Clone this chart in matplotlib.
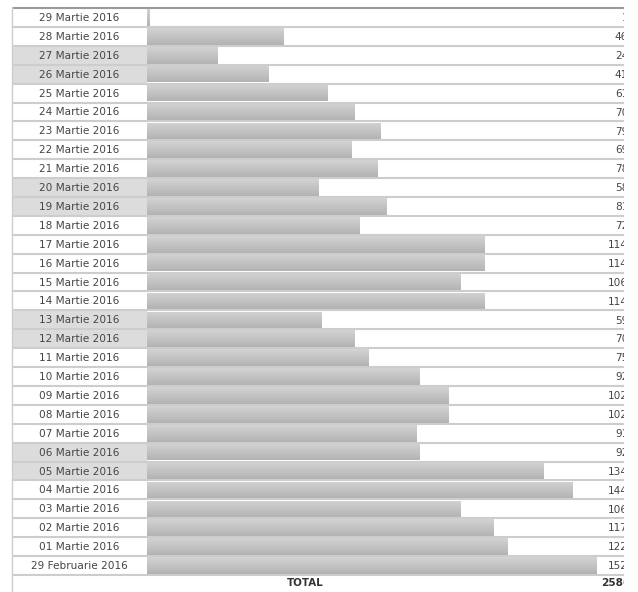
"""Daily counts table with inline bars (Martie 2016)."""
import matplotlib
matplotlib.use("Agg")
import matplotlib.pyplot as plt
import numpy as np
import pandas as pd
from matplotlib.colors import LinearSegmentedColormap
from matplotlib.transforms import Bbox

labels = [
    "29 Martie 2016", "28 Martie 2016", "27 Martie 2016", "26 Martie 2016",
    "25 Martie 2016", "24 Martie 2016", "23 Martie 2016", "22 Martie 2016",
    "21 Martie 2016", "20 Martie 2016", "19 Martie 2016", "18 Martie 2016",
    "17 Martie 2016", "16 Martie 2016", "15 Martie 2016", "14 Martie 2016",
    "13 Martie 2016", "12 Martie 2016", "11 Martie 2016", "10 Martie 2016",
    "09 Martie 2016", "08 Martie 2016", "07 Martie 2016", "06 Martie 2016",
    "05 Martie 2016", "04 Martie 2016", "03 Martie 2016", "02 Martie 2016",
    "01 Martie 2016", "29 Februarie 2016",
]
dates = pd.date_range("2016-02-29", "2016-03-29")[::-1]
values = [1, 46, 24, 41, 61, 70, 79, 69, 78, 58, 81, 72, 114, 114, 106, 114,
          59, 70, 75, 92, 102, 102, 91, 92, 134, 144, 106, 117, 122, 152]

W, H = 638, 592
TOP, ROW = 8, 18.9
LEFT, SPLIT, RIGHT = 12, 147, 624
n = len(values)
weekend = dates.dayofweek >= 5

fig = plt.figure(figsize=(W / 100, H / 100), dpi=100)
frame = fig.add_axes([0, 0, 1, 1])
frame.set_xlim(0, W)
frame.set_ylim(H, 0)
frame.axis("off")

# the source table is cut off on the right, so the numbers are clipped there
cut = Bbox.from_extents(0, 0, RIGHT, H)

txt = "#454545"
for i, (lab, we) in enumerate(zip(labels, weekend)):
    y0 = TOP + i * ROW
    if we:
        frame.add_patch(plt.Rectangle((LEFT + 1, y0 + 1), SPLIT - LEFT - 1, ROW - 2,
                                      color="#dcdcdc", lw=0))
    frame.text((LEFT + SPLIT) / 2, y0 + ROW / 2 + 0.5, lab, ha="center", va="center",
               fontsize=7.6, color=txt)
    frame.plot([LEFT, RIGHT], [y0 + ROW, y0 + ROW], color="#cdcdcd", lw=1.5,
               solid_capstyle="butt")
frame.plot([LEFT, RIGHT], [TOP - 0.5, TOP - 0.5], color="#9a9a9a", lw=1.5,
           solid_capstyle="butt")
frame.plot([LEFT, LEFT], [TOP - 1, H], color="#cdcdcd", lw=1)

# bars in their own axes, one row per category
bx = fig.add_axes([SPLIT / W, 1 - (TOP + n * ROW) / H, (RIGHT - SPLIT) / W, n * ROW / H])
bx.patch.set_alpha(0)
bx.axis("off")
bars = bx.barh(range(n), values, height=0.88, color="#c0c0c0", lw=0, zorder=1)
grey = LinearSegmentedColormap.from_list("g", ["#d3d3d3", "#b3b3b3"])
grad = np.linspace(0, 1, 32).reshape(-1, 1)
for b in bars:
    x0, y0, w, h = b.get_x(), b.get_y(), b.get_width(), b.get_height()
    im = bx.imshow(grad, cmap=grey, aspect="auto", extent=(x0, x0 + w, y0 + h, y0),
                   origin="upper", interpolation="bilinear", zorder=2)
    im.set_clip_path(b)
bx.set_xlim(0, (RIGHT - SPLIT) / 2.958)
bx.set_ylim(n - 0.5, -0.5)

for i, v in enumerate(values):
    t = bx.annotate(str(v), xy=(1, i), xycoords=("axes fraction", "data"),
                    xytext=(3, -0.5), textcoords="offset points", ha="right",
                    va="center", fontsize=7.6, color=txt, annotation_clip=False)
    t.set_clip_on(True)
    t.set_clip_box(cut)

ty = TOP + n * ROW + 8.5
frame.text(305, ty, "TOTAL", ha="center", va="center", fontsize=7.4,
           fontweight="bold", color="#333333")
tot = frame.text(RIGHT + 6, ty, str(sum(values)), ha="right", va="center",
                 fontsize=7.6, fontweight="bold", color="#333333")
tot.set_clip_on(True)
tot.set_clip_path(None)
tot.set_clip_box(cut)

fig.savefig("out.png", dpi=100)
